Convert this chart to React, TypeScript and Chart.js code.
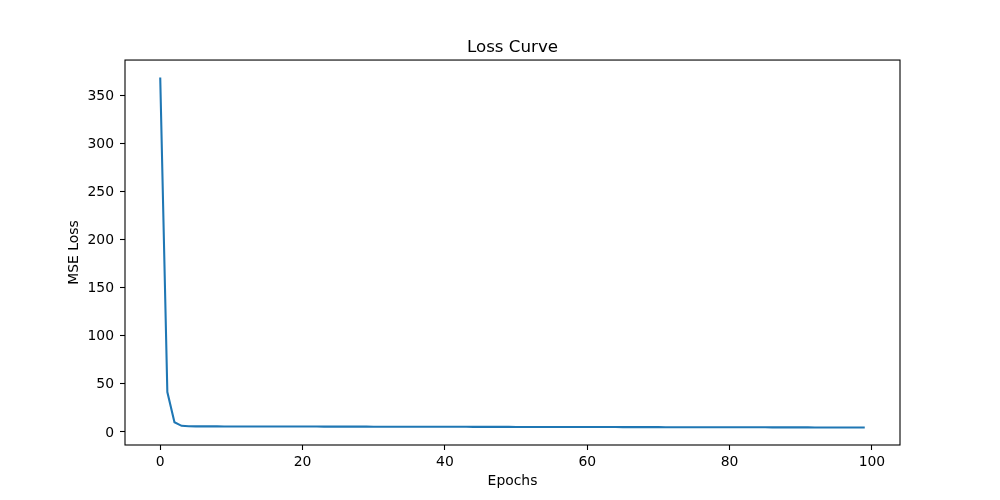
import React, { useEffect, useRef } from "react";
import { Chart, registerables } from "chart.js";

Chart.register(...registerables);

// MSE loss per epoch (epochs 0..99)
const lossValues: number[] = [
  369.0, 41.5, 10.0, 6.3, 5.8,
  5.75, 5.73, 5.72, 5.71, 5.70,
  5.68, 5.67, 5.66, 5.65, 5.63, 5.62, 5.61, 5.60, 5.58, 5.57,
  5.56, 5.55, 5.53, 5.52, 5.51, 5.50, 5.48, 5.47, 5.46, 5.45,
  5.43, 5.42, 5.41, 5.40, 5.38, 5.37, 5.36, 5.35, 5.33, 5.32,
  5.31, 5.30, 5.28, 5.27, 5.26, 5.25, 5.23, 5.22, 5.21, 5.20,
  5.18, 5.17, 5.16, 5.15, 5.13, 5.12, 5.11, 5.10, 5.08, 5.07,
  5.06, 5.05, 5.03, 5.02, 5.01, 5.00, 4.98, 4.97, 4.96, 4.95,
  4.93, 4.92, 4.91, 4.90, 4.88, 4.87, 4.86, 4.85, 4.83, 4.82,
  4.81, 4.80, 4.78, 4.77, 4.76, 4.75, 4.73, 4.72, 4.71, 4.70,
  4.68, 4.67, 4.66, 4.65, 4.63, 4.62, 4.61, 4.60, 4.58, 4.57,
];

const xTickValues: number[] = [0, 20, 40, 60, 80, 100];
const yTickValues: number[] = [0, 50, 100, 150, 200, 250, 300, 350];
const xLimits: [number, number] = [-4.95, 103.95];
const yLimits: [number, number] = [-13.65, 387.22];

const titleText = "Loss Curve";
const xLabel = "Epochs";
const yLabel = "MSE Loss";

const FONT = "'DejaVu Sans', sans-serif";

const framePlugin = {
  id: "frame",
  afterDatasetsDraw(chart: any) {
    const { ctx, chartArea } = chart;
    const { left, top, right, bottom } = chartArea;
    ctx.save();
    ctx.strokeStyle = "#000";
    ctx.lineWidth = 1.1;
    ctx.strokeRect(left, top, right - left, bottom - top);
    ctx.restore();
  },
};

export default function App() {
  const canvasRef = useRef<HTMLCanvasElement | null>(null);

  useEffect(() => {
    if (!canvasRef.current) return;
    const points = lossValues.map((v, i) => ({ x: i, y: v }));
    const chart = new Chart(canvasRef.current, {
      type: "line",
      data: {
        datasets: [
          {
            data: points,
            borderColor: "#1f77b4",
            borderWidth: 2.08,
            pointRadius: 0,
            tension: 0,
            fill: false,
          },
        ],
      },
      options: {
        animation: false,
        responsive: false,
        maintainAspectRatio: false,
        layout: { padding: { left: 0, right: 100, top: 0, bottom: 0 } },
        plugins: {
          legend: { display: false },
          tooltip: { enabled: false },
          title: {
            display: true,
            text: titleText,
            fullSize: false,
            color: "#000",
            font: { family: FONT, size: 16.7, weight: "normal" },
            padding: { top: 38, bottom: 2 },
          },
        },
        scales: {
          x: {
            type: "linear",
            min: xLimits[0],
            max: xLimits[1],
            afterBuildTicks: (s: any) => {
              s.ticks = xTickValues.map((v) => ({ value: v }));
            },
            afterFit: (s: any) => {
              s.height = 55;
            },
            border: { display: false },
            grid: {
              display: true,
              drawOnChartArea: false,
              drawTicks: true,
              tickLength: 5,
              tickColor: "#000",
              tickWidth: 1.1,
            },
            ticks: {
              color: "#000",
              font: { family: FONT, size: 13.9 },
              padding: 4,
              maxRotation: 0,
              autoSkip: false,
              callback: (v: any) => String(v),
            },
            title: {
              display: true,
              text: xLabel,
              color: "#000",
              font: { family: FONT, size: 13.9 },
              padding: { top: 0, bottom: 10 },
            },
          },
          y: {
            type: "linear",
            min: yLimits[0],
            max: yLimits[1],
            afterBuildTicks: (s: any) => {
              s.ticks = yTickValues.map((v) => ({ value: v }));
            },
            afterFit: (s: any) => {
              s.width = 125;
            },
            border: { display: false },
            grid: {
              display: true,
              drawOnChartArea: false,
              drawTicks: true,
              tickLength: 5,
              tickColor: "#000",
              tickWidth: 1.1,
            },
            ticks: {
              color: "#000",
              font: { family: FONT, size: 13.9 },
              padding: 6,
              labelOffset: 1,
              autoSkip: false,
              callback: (v: any) => String(v),
            },
            title: {
              display: true,
              text: yLabel,
              color: "#000",
              font: { family: FONT, size: 13.9 },
              padding: { top: 66, bottom: 0 },
            },
          },
        },
      },
      plugins: [framePlugin],
    } as any);
    return () => chart.destroy();
  }, []);

  return (
    <div style={{ position: "absolute", left: 0, top: 0, width: 1000, height: 500, background: "#fff" }}>
      <canvas ref={canvasRef} width={1000} height={500} style={{ display: "block" }} />
    </div>
  );
}
